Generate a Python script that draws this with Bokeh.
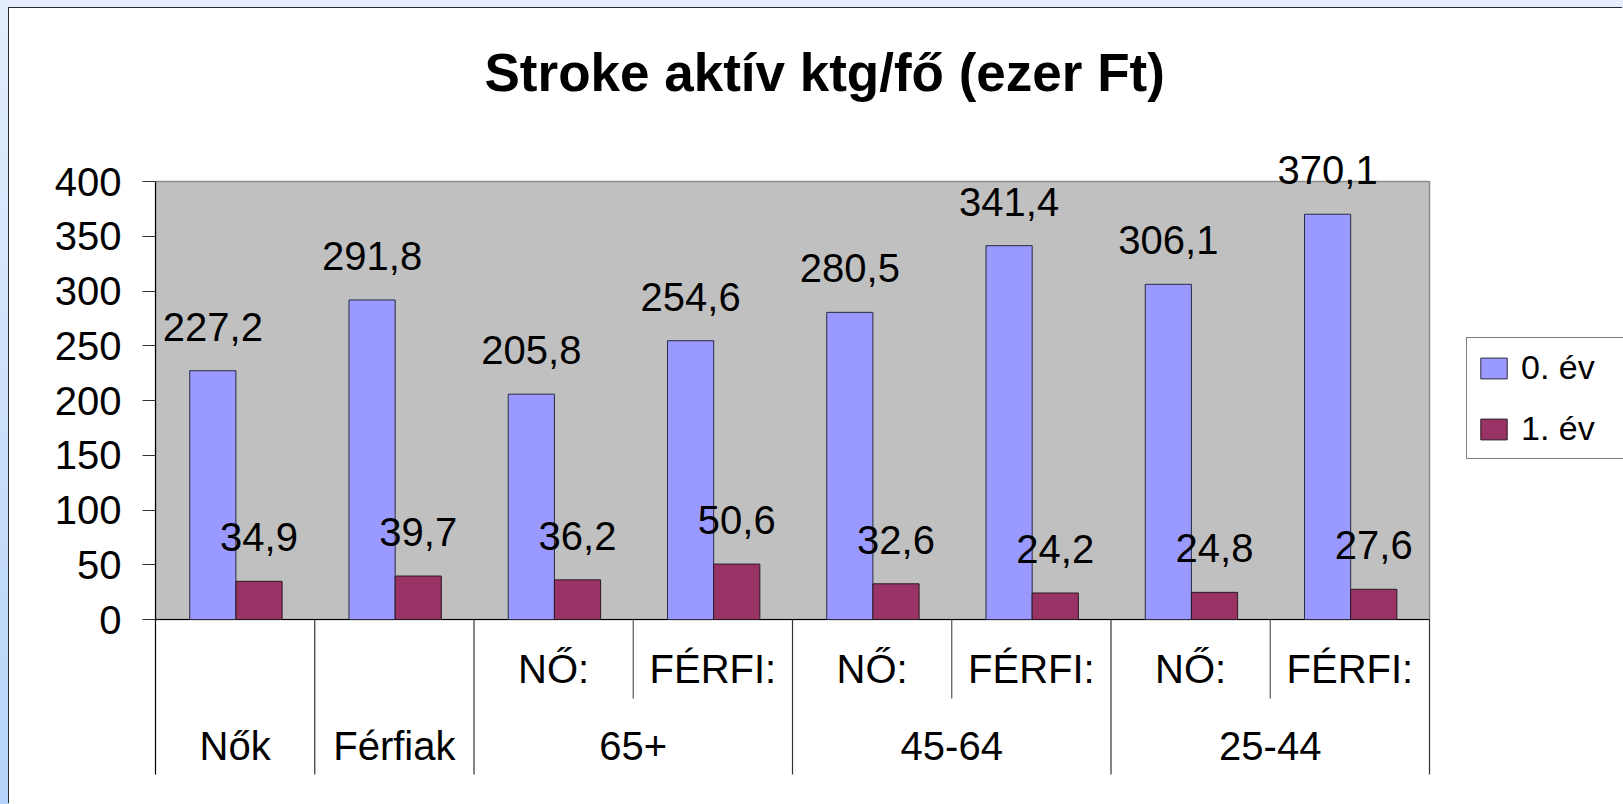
from bokeh.plotting import figure
from bokeh.layouts import column
from bokeh.models import Range1d, FixedTicker, Legend, LegendItem, ColumnDataSource
from bokeh.core.properties import value
from bokeh.embed import file_html
from bokeh.resources import INLINE

# ---------------- data ----------------
title_text = "Stroke aktív ktg/fő (ezer Ft)"
groups = ["Nők", "Férfiak", "65+", "45-64", "25-44"]
group_sizes = [1, 1, 2, 2, 2]
sub_labels = ["", "", "NŐ:", "FÉRFI:", "NŐ:", "FÉRFI:", "NŐ:", "FÉRFI:"]
series_names = ["0. év", "1. év"]
ev0 = [227.2, 291.8, 205.8, 254.6, 280.5, 341.4, 306.1, 370.1]
ev1 = [34.9, 39.7, 36.2, 50.6, 32.6, 24.2, 24.8, 27.6]
y_ticks = [0, 50, 100, 150, 200, 250, 300, 350, 400]
y_max = 400

# ---------------- style / layout ----------------
FONT = "Liberation Sans"
C0 = "#9999FF"
C1 = "#993366"
n = len(sub_labels)
k = 438 / 400.0            # px per value unit
cat_w = 1274 / n           # px per category
y_lo = -181 / k            # frame bottom (room for category labels)
y_axis_lo = -155 / k       # end of axis / category dividers
y_hi = 499 / k             # frame top (room for value labels)
x_hi = 1468 / cat_w        # frame extends to the right edge (legend area)


def fmt(v):
    return f"{v:.1f}".replace(".", ",")


p = figure(width=1614, height=796, output_backend="svg", toolbar_location=None,
           x_range=Range1d(0, x_hi), y_range=Range1d(y_lo, y_hi),
           min_border_left=146, min_border_right=0, min_border_top=112,
           min_border_bottom=4, x_axis_type=None)
p.outline_line_color = None
p.grid.visible = False
p.background_fill_color = "white"
p.border_fill_color = "white"
p.styles = {"box-shadow": "-1px -1px 0 0 #2b2b2b", "background-color": "white"}

# plot area (gray)
p.quad(left=[0], right=[n], bottom=[0], top=[y_max], fill_color="#C0C0C0",
       line_color="#8c8c8c", line_width=1.5)
p.line(x=[0, n], y=[0, 0], line_color="black", line_width=1.2)

# bars
idx = list(range(n))
src = ColumnDataSource(dict(
    x0=[i + 0.36 for i in idx], x1=[i + 0.65 for i in idx],
    ev0=ev0, ev1=ev1, l0=[fmt(v) for v in ev0], l1=[fmt(v) for v in ev1]))
r0 = p.vbar(x="x0", top="ev0", bottom=0, width=0.29, source=src,
            fill_color=C0, line_color="#2a2a40", line_width=1)
r1 = p.vbar(x="x1", top="ev1", bottom=0, width=0.29, source=src,
            fill_color=C1, line_color="#2a1a22", line_width=1)

# value labels
for xc, yc, lc in (("x0", "ev0", "l0"), ("x1", "ev1", "l1")):
    p.text(x=xc, y=yc, text=lc, source=src, text_align="center",
           text_baseline="alphabetic", y_offset=-44, text_font=value(FONT),
           text_font_size="40px", text_color="black")

# category axis (two tiers) drawn below zero
outer = [0]
for s in group_sizes:
    outer.append(outer[-1] + s)
inner = []
for a, s in zip(outer[:-1], group_sizes):
    inner += [a + j for j in range(1, s)]
p.segment(x0=outer[1:], y0=[0] * (len(outer) - 1), x1=outer[1:],
          y1=[y_axis_lo] * (len(outer) - 1), line_color="#333333", line_width=1.2)
p.segment(x0=inner, y0=[0] * len(inner), x1=inner, y1=[-79 / k] * len(inner),
          line_color="#555555", line_width=1.2)

sub_src = ColumnDataSource(dict(x=[i + 0.5 for i in idx if sub_labels[i]],
                                t=[s for s in sub_labels if s]))
p.text(x="x", y=-49 / k, text="t", source=sub_src, text_align="center",
       text_baseline="alphabetic", text_font=value(FONT), text_font_size="40px",
       text_color="black")
grp_src = ColumnDataSource(dict(x=[(a + b) / 2 for a, b in zip(outer[:-1], outer[1:])],
                                t=groups))
p.text(x="x", y=-126 / k, text="t", source=grp_src, text_align="center",
       text_baseline="alphabetic", text_font=value(FONT), text_font_size="40px",
       text_color="black")

# y axis
ax = p.yaxis[0]
ax.ticker = FixedTicker(ticks=y_ticks)
ax.bounds = (y_axis_lo, y_max)
ax.major_tick_out = 13
ax.major_tick_in = 0
ax.minor_tick_out = 0
ax.minor_tick_in = 0
ax.major_label_text_font = FONT
ax.major_label_text_font_size = "40px"
ax.major_label_text_color = "black"
ax.major_label_standoff = 21
ax.axis_line_color = "black"
ax.axis_line_width = 1.2
ax.major_tick_line_color = "#333333"

# title
p.title.text = title_text
p.title.text_font = FONT
p.title.text_font_size = "53px"
p.title.text_font_style = "bold"
p.title.text_color = "black"
p.title.align = "left"
p.title.offset = 329
p.title.standoff = 37

# legend
legend = Legend(items=[LegendItem(label=series_names[0], renderers=[r0]),
                       LegendItem(label=series_names[1], renderers=[r1])],
                location=(1311, 341), glyph_width=33, glyph_height=26,
                label_text_font=FONT, label_text_font_size="34px",
                label_text_color="black",
                label_height=34, label_width=92, spacing=22, padding=10,
                label_standoff=11, border_line_color="black", border_line_width=1,
                background_fill_color="white", background_fill_alpha=1, margin=0)
p.add_layout(legend)

page = column(p, styles={"padding-left": "9px", "padding-top": "8px",
                         "background": "linear-gradient(to bottom, #e4eefc, #b5d3f8)"})

open("out.html", "w").write(file_html(page, INLINE))
